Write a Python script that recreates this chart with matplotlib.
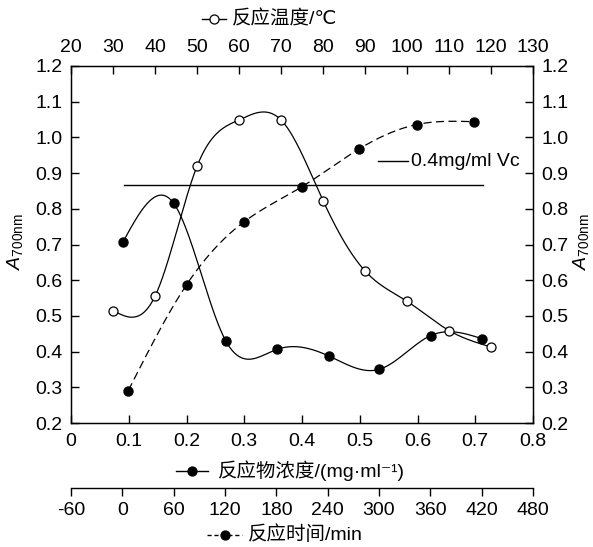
import matplotlib
matplotlib.use('Agg')
import matplotlib.pyplot as plt
from matplotlib.lines import Line2D
import numpy as np

plt.rcParams['font.family'] = ['Liberation Sans', 'DejaVu Sans', 'Noto Sans CJK SC']
plt.rcParams['mathtext.fontset'] = 'custom'
plt.rcParams['mathtext.rm'] = 'Liberation Sans'
plt.rcParams['mathtext.it'] = 'Liberation Sans:italic'

# concentration series (bottom axis, mg/ml)
conc = [0.09, 0.178, 0.268, 0.356, 0.446, 0.533, 0.623, 0.712]
conc_a = [0.707, 0.815, 0.430, 0.406, 0.388, 0.350, 0.445, 0.436]

# temperature series (top axis, C)
temp = [30, 40, 50, 60, 70, 80, 90, 100, 110, 120]
temp_a = [0.515, 0.555, 0.919, 1.049, 1.049, 0.823, 0.626, 0.541, 0.459, 0.413]

# time series (lower axis, min)
time = [7, 75, 142, 210, 277, 344, 411]
time_a = [0.291, 0.587, 0.763, 0.862, 0.968, 1.036, 1.044]

# Vc reference
vc_level = 0.866
vc_span = [0.092, 0.713]

y_ticks = [0.2, 0.3, 0.4, 0.5, 0.6, 0.7, 0.8, 0.9, 1.0, 1.1, 1.2]
conc_ticks = [0, 0.1, 0.2, 0.3, 0.4, 0.5, 0.6, 0.7, 0.8]
conc_labels = ['0', '0.1', '0.2', '0.3', '0.4', '0.5', '0.6', '0.7', '0.8']
temp_ticks = [20, 30, 40, 50, 60, 70, 80, 90, 100, 110, 120, 130]
time_ticks = [-60, 0, 60, 120, 180, 240, 300, 360, 420, 480]
time_labels = ['-60', '0', '60', '120', '180', '240', '300', '360', '420', '480']


def spline(xs, ys, n=300):
    # natural cubic spline through the points, just for drawing the curve
    x = np.asarray(xs, float)
    y = np.asarray(ys, float)
    k = len(x)
    h = np.diff(x)
    A = np.zeros((k, k))
    b = np.zeros(k)
    A[0, 0] = A[-1, -1] = 1
    for i in range(1, k - 1):
        A[i, i - 1] = h[i - 1]
        A[i, i] = 2 * (h[i - 1] + h[i])
        A[i, i + 1] = h[i]
        b[i] = 6 * ((y[i + 1] - y[i]) / h[i] - (y[i] - y[i - 1]) / h[i - 1])
    M = np.linalg.solve(A, b)
    xx = np.linspace(x[0], x[-1], n)
    idx = np.clip(np.searchsorted(x, xx) - 1, 0, k - 2)
    x0, x1 = x[idx], x[idx + 1]
    hh = x1 - x0
    t0, t1 = x1 - xx, xx - x0
    yy = (M[idx] * t0 ** 3 + M[idx + 1] * t1 ** 3) / (6 * hh) \
        + (y[idx] / hh - M[idx] * hh / 6) * t0 + (y[idx + 1] / hh - M[idx + 1] * hh / 6) * t1
    return xx, yy


fig = plt.figure(figsize=(5.93, 5.47), dpi=100)
ax = fig.add_axes([71 / 593, 124 / 547, 462 / 593, 357 / 547])
fs = 14

ax.set_xlim(0, 0.8)
ax.set_ylim(0.2, 1.2)
ax.set_xticks(conc_ticks)
ax.set_xticklabels(conc_labels)
ax.set_yticks(y_ticks)
ax.set_yticklabels(['%.1f' % v for v in y_ticks])
ax.tick_params(axis='both', direction='in', length=6, width=1, labelsize=fs)
ax.tick_params(axis='x', pad=7, top=False)
ax.tick_params(axis='y', pad=6, right=True, labelright=True)
for s in ax.spines.values():
    s.set_linewidth(1)

# concentration curve
xs, ys = spline(conc, conc_a)
ax.plot(xs, ys, color='black', lw=0.9)
ax.plot(conc, conc_a, 'o', color='black', ms=6.5)

# Vc line + label
ax.plot(vc_span, [vc_level, vc_level], color='black', lw=1)
ax.add_line(Line2D([378 / 593, 408 / 593], [1 - 161 / 547, 1 - 161 / 547],
                   transform=fig.transFigure, color='black', lw=1))
fig.text(411 / 593, 1 - 161 / 547, '0.4mg/ml Vc', fontsize=fs, va='center', ha='left')

ylab = r'$\mathit{A}_{\mathrm{700nm}}$'
fig.text(15 / 593, 1 - 242 / 547, ylab, rotation=90, ha='center', va='center', fontsize=fs)
fig.text(581 / 593, 1 - 242 / 547, ylab, rotation=90, ha='center', va='center', fontsize=fs)

# temperature (top axis)
ax2 = ax.twiny()
ax2.set_xlim(20, 130)
ax2.set_xticks(temp_ticks)
ax2.tick_params(axis='x', direction='in', length=6, width=1, labelsize=fs, pad=7)
xs, ys = spline(temp, temp_a)
ax2.plot(xs, ys, color='black', lw=0.9)
ax2.plot(temp, temp_a, 'o', mfc='white', mec='black', mew=0.9, ms=6.5)

# time (separate lower axis)
ax3 = ax.twiny()
ax3.set_xlim(-60, 480)
ax3.xaxis.set_ticks_position('bottom')
ax3.xaxis.set_label_position('bottom')
ax3.spines['bottom'].set_position(('axes', -65 / 357))
for side in ['top', 'left', 'right']:
    ax3.spines[side].set_visible(False)
ax3.spines['bottom'].set_linewidth(1)
ax3.set_xticks(time_ticks)
ax3.set_xticklabels(time_labels)
ax3.tick_params(axis='x', direction='out', length=6, width=1, labelsize=fs, pad=4)
xs, ys = spline(time, time_a)
ax3.plot(xs, ys, color='black', lw=0.9, ls=(0, (6.5, 3.5)))
ax3.plot(time, time_a, 'o', color='black', ms=6.5)

# axis captions with their symbols
def caption(x0, x1, y, text, tx, filled, dashed):
    yf = 1 - y / 547
    fig.add_artist(Line2D([x0 / 593, x1 / 593], [yf, yf], transform=fig.transFigure,
                          color='black', lw=1, ls=(0, (3, 2)) if dashed else '-'))
    fig.add_artist(Line2D([(x0 + x1) / 2 / 593], [yf], transform=fig.transFigure,
                          marker='o', ms=6.5, mec='black', mew=0.9,
                          mfc='black' if filled else 'white', ls='none'))
    fig.text(tx / 593, yf, text, fontsize=fs, va='center', ha='left')

caption(202, 226, 19, '反应温度/℃', 232, False, False)
caption(176, 208, 471, '反应物浓度/(mg·ml⁻¹)', 218, True, False)
caption(207, 242, 535, '反应时间/min', 248, True, True)

fig.savefig('out.png', dpi=100)
